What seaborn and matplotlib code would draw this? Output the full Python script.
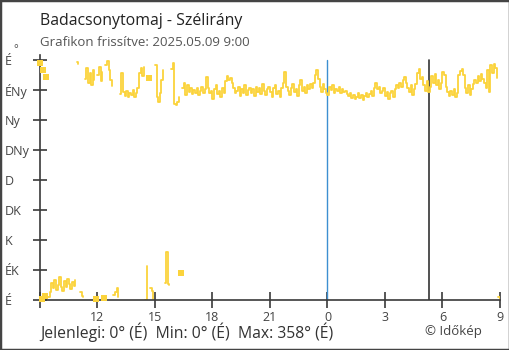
import numpy as np
import pandas as pd
import matplotlib
matplotlib.use("Agg")
import matplotlib.pyplot as plt
import seaborn as sns
from matplotlib.patches import Rectangle

station = "Badacsonytomaj"
updated = "2025.05.09 9:00"

# wind direction (degrees), one reading every 5 minutes from 09:00 the day before;
# each row below is one hour
direction = [
    356, 2, 345, 6, 334, 4, 12, 25, 18, 30, 15, 22,
    34, 20, 14, 28, 19, 32, 24, 16, 27, 21, 30, 357,
    354, 12, 6, 5, 331, 348, 326, 340, 322, 345, 330, 2,
    338, 349, 328, 342, 3, 352, 358, 345, 330, 321, 8, 12,
    18, 5, 309, 341, 312, 306, 314, 304, 310, 307, 315, 305,
    311, 318, 340, 348, 336, 349, 0, 51, 333, 18, 14, 1,
    352, 305, 297, 310, 330, 345, 25, 72, 24, 22, 346, 355,
    294, 292, 297, 305, 40, 318, 326, 308, 322, 312, 318, 309,
    315, 310, 318, 307, 314, 320, 311, 316, 334, 318, 310, 314,
    302, 316, 322, 309, 313, 305, 318, 311, 328, 336, 330, 333,
    326, 318, 310, 314, 320, 306, 316, 311, 322, 308, 315, 318,
    310, 316, 306, 320, 312, 318, 309, 324, 313, 307, 316, 320,
    312, 305, 318, 322, 309, 314, 304, 318, 326, 342, 320, 313,
    308, 318, 324, 312, 316, 306, 322, 330, 314, 319, 310, 322,
    316, 324, 318, 326, 338, 345, 332, 320, 312, 324, 316, 310,
    307, 320, 315, 322, 311, 317, 313, 319, 310, 316, 312, 314,
    309, 306, 311, 303, 308, 301, 305, 310, 303, 307, 300, 306,
    311, 304, 309, 314, 306, 318, 325, 316, 320, 310, 314, 318,
    306, 312, 302, 310, 314, 305, 316, 322, 318, 326, 320, 330,
    334, 326, 318, 312, 322, 307, 316, 324, 340, 346, 331, 335,
    322, 314, 328, 312, 320, 336, 326, 339, 322, 330, 316, 325,
    342, 338, 320, 312, 306, 314, 308, 316, 305, 310, 337, 344,
    346, 338, 318, 310, 322, 307, 316, 324, 330, 326, 336, 328,
    339, 332, 325, 318, 345, 312, 352, 340, 354, 348, 333, 4,
    0,
]
step_minutes = 5

compass = ["É", "ÉK", "K", "DK", "D", "DNy", "Ny", "ÉNy", "É"]
compass_deg = [0, 45, 90, 135, 180, 225, 270, 315, 360]
xtick_hours = [0, 3, 6, 9, 12, 15, 18, 21, 24]
xtick_labels = ["", "12", "15", "18", "21", "0", "3", "6", "9"]
midnight_hour = 15.0
sunrise_hour = 20.3

yellow = "#fbd33c"
axis_col = "#3a3a3a"


def compass_name(deg):
    return compass[int(round(deg / 45.0)) % 8]


hours = np.arange(len(direction)) * step_minutes / 60.0
df = pd.DataFrame({"hour": hours, "dir": direction})
# break the trace wherever the direction wraps around north
df["seg"] = (df["dir"].diff().abs() > 180).cumsum()
df["n"] = df.groupby("seg")["dir"].transform("size")

sns.set_theme(style="white")
plt.rcParams["font.family"] = ["Open Sans", "DejaVu Sans"]

fig = plt.figure(figsize=(5.1, 3.5), dpi=100)
W, H = 510, 350
ax = fig.add_axes([40 / W, 1 - 300 / H, 460 / W, 245 / H])

sns.lineplot(data=df, x="hour", y="dir", units="seg", estimator=None,
             color=yellow, linewidth=1.3, ax=ax, legend=False,
             drawstyle="steps-post")
sns.scatterplot(data=df[df["n"] == 1], x="hour", y="dir", marker="s", s=14,
                color=yellow, linewidth=0, ax=ax, legend=False, clip_on=False,
                zorder=3)

ax.axvline(midnight_hour, ymin=0, ymax=360 / 367.5, color="#3d8fd1", lw=1.0, zorder=1)
ax.axvline(sunrise_hour, ymin=0, ymax=360 / 367.5, color="#333333", lw=1.2, zorder=1)

ax.set_xlim(0, 24)
ax.set_ylim(0, 367.5)
ax.set_xticks(xtick_hours)
ax.set_xticklabels(xtick_labels)
ax.set_yticks(compass_deg)
ax.set_yticklabels(compass)
ax.set_xlabel("")
ax.set_ylabel("")

for side in ("top", "right"):
    ax.spines[side].set_visible(False)
for side in ("left", "bottom"):
    ax.spines[side].set_color(axis_col)
    ax.spines[side].set_linewidth(1.2)

ax.tick_params(axis="y", direction="inout", length=10, width=1.2, color=axis_col,
               labelsize=9, labelcolor="#444444", pad=20.2, left=True)
ax.tick_params(axis="x", direction="inout", length=11.5, width=1.2, color=axis_col,
               labelsize=9, labelcolor="#444444", pad=2, bottom=True)
for lbl in ax.get_yticklabels():
    lbl.set_ha("left")

fig.text(40 / W, 1 - 25 / H, f"{station} - Szélirány", fontsize=11.4, color="#222222",
         va="baseline", ha="left")
fig.text(40 / W, 1 - 45.5 / H, f"Grafikon frissítve: {updated}", fontsize=9.5,
         color="#555555", va="baseline", ha="left")
fig.text(13 / W, 1 - 52 / H, "°", fontsize=8, color="#444444", va="baseline", ha="left")

cur = direction[-1]
lo = min(direction)
hi = max(direction)
footer = (f"Jelenlegi: {cur}° ({compass_name(cur)})  "
          f"Min: {lo}° ({compass_name(lo)})  "
          f"Max: {hi}° ({compass_name(hi)})")
fig.text(40 / W, 1 - 338 / H, footer, fontsize=11.3, color="#333333",
         va="baseline", ha="left")
fig.text(425 / W, 1 - 335 / H, "© Időkép", fontsize=9.5, color="#444444",
         va="baseline", ha="left")

fig.patches.append(Rectangle((0, 0), 1, 1, transform=fig.transFigure, fill=False,
                             edgecolor="#444444", linewidth=2.5))

fig.savefig("out.png", dpi=100)
